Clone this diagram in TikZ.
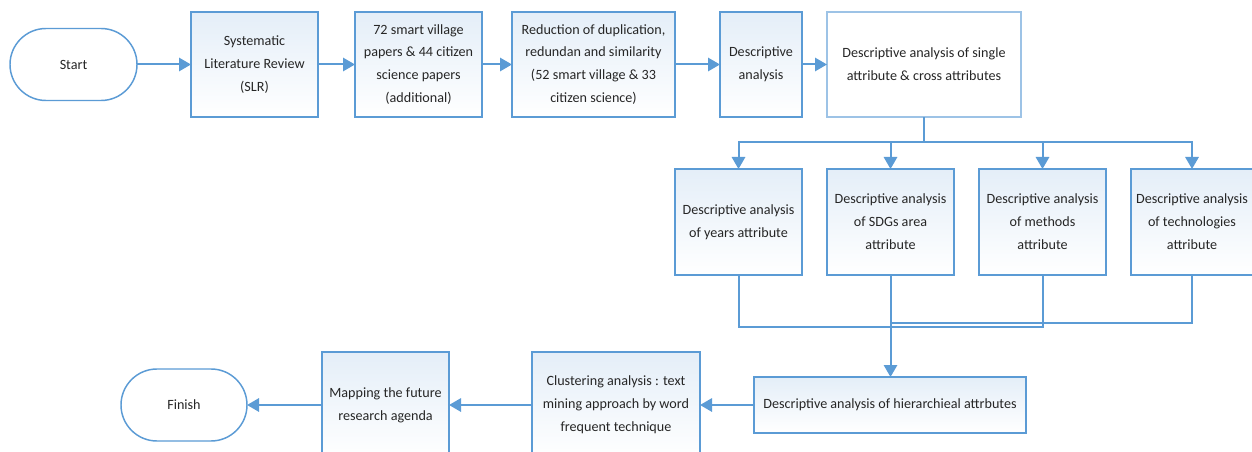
\documentclass[tikz,border=0pt]{standalone}
\usepackage{fontspec}
\setmainfont{Carlito}
\usetikzlibrary{positioning, arrows.meta}
\definecolor{lineblue}{HTML}{5B9BD5}
\definecolor{paleblue}{HTML}{9DC3E6}
\definecolor{tintblue}{HTML}{E4EEF8}

\begin{document}
\begin{tikzpicture}[x=0.75pt, y=-0.75pt,
    font=\fontsize{10.6}{17.2}\selectfont,
    box/.style={rectangle, draw=lineblue, line width=1.1pt, align=center,
        top color=tintblue, bottom color=white, text=black!85, outer sep=0pt,
        minimum width=95.25pt, minimum height=79pt, inner sep=2pt},
    term/.style={rectangle, rounded corners=27pt, draw=lineblue, line width=1.1pt,
        fill=white, text=black!85, outer sep=0pt, minimum width=95.25pt, minimum height=54pt},
    arrow/.style={-{Triangle[length=9pt, width=10pt]}, line width=1.5pt, draw=lineblue},
    link/.style={line width=1.5pt, draw=lineblue}]
\useasboundingbox (0,0) rectangle (1252,452);
% top row
\node[term] (start) at (73.5,64.5) {Start};
\node[box, right=40.5pt of start] (slr) {Systematic\\ Literature Review\\ (SLR)};
\node[box, right=27.75pt of slr] (papers) {72 smart village\\ papers \& 44 citizen\\ science papers\\ (additional)};
\node[box, right=22.5pt of papers, minimum width=122.25pt] (reduce) {Reduction of duplication,\\ redundan and similarity\\ (52 smart village \& 33\\ citizen science)};
\node[box, right=33.75pt of reduce, minimum width=61.5pt] (desc) {Descriptive\\ analysis};
\node[box, right=18.75pt of desc, minimum width=145.5pt, draw=paleblue, top color=white] (single) {Descriptive analysis of single\\ attribute \& cross attributes};
% attribute row
\node[box, minimum height=79.5pt] (years) at (738.5,222) {Descriptive analysis\\ of years attribute};
\node[box, minimum height=79.5pt, right=18.75pt of years] (sdgs) {Descriptive analysis\\ of SDGs area\\ attribute};
\node[box, minimum height=79.5pt, right=18.75pt of sdgs] (methods) {Descriptive analysis\\ of methods\\ attribute};
\node[box, minimum height=79.5pt, minimum width=91.5pt, right=18.75pt of methods] (techs) {Descriptive analysis\\ of technologies\\ attribute};
% bottom row
\node[box, minimum width=204pt, minimum height=42pt] (hier) at (890,405) {Descriptive analysis of hierarchieal attrbutes};
\node[box, minimum width=126pt, minimum height=79.5pt, left=40.5pt of hier] (clust) {Clustering analysis : text\\ mining approach by word\\ frequent technique};
\node[box, minimum height=79.5pt, left=62.25pt of clust] (mapping) {Mapping the future\\ research agenda};
\node[term, minimum width=94.5pt, left=56.25pt of mapping] (finish) {Finish};
% connectors
\draw[arrow](start)--(slr);\draw[arrow](slr)--(papers);\draw[arrow](papers)--(reduce);
\draw[arrow](reduce)--(desc);\draw[arrow](desc)--(single);
\path (single.south) ++(0,25) coordinate (split);
\draw[link](single.south)--(split);
\foreach \n in {years,sdgs,methods,techs}
    \draw[arrow](split)-|(\n);
\draw[link](years.south)--++(0,52)-|(methods.south);
\draw[link](techs.south)--++(0,48)-|(sdgs.south);
\draw[arrow](sdgs.south)--(sdgs.south |- hier.north);
\draw[arrow](hier)--(clust);\draw[arrow](clust)--(mapping);\draw[arrow](mapping)--(finish);
\end{tikzpicture}
\end{document}
